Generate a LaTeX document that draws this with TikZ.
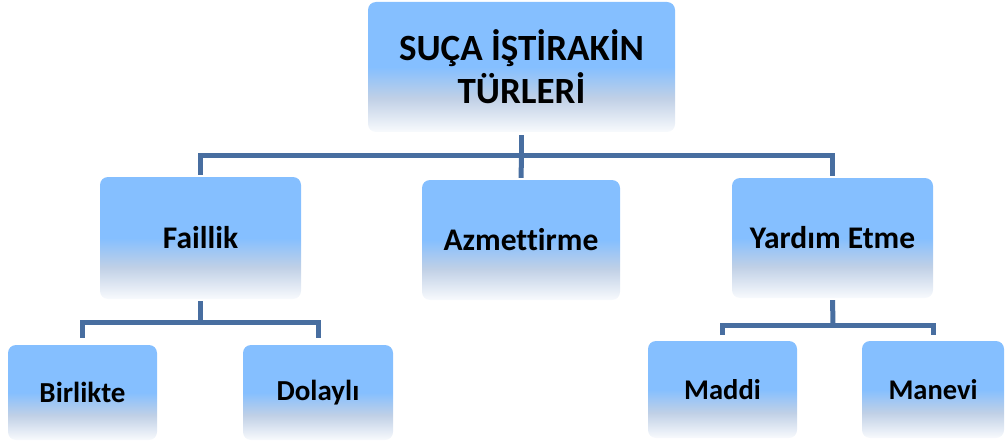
\documentclass[tikz,border=0pt]{standalone}
\usepackage{fontspec}
\setmainfont{Carlito}[Ligatures=NoCommon]
\definecolor{boxblue}{RGB}{133,191,255}
\definecolor{boxgrey}{RGB}{192,208,230}
\definecolor{boxwhite}{RGB}{248,250,253}
\definecolor{linkblue}{RGB}{72,110,160}
\pgfdeclareverticalshading{boxshade}{100bp}{color(0bp)=(boxwhite); color(25bp)=(boxwhite); color(38bp)=(boxgrey); color(50bp)=(boxblue); color(75bp)=(boxblue); color(100bp)=(boxblue)}
\tikzset{
  tbox/.style={rounded corners=8pt, shading=boxshade, align=center, inner sep=0pt, font=\bfseries, text=black},
  link/.style={draw=linkblue, line width=5pt},
}
\begin{document}
\begin{tikzpicture}[x=1pt,y=-1pt]
\useasboundingbox (0,0) rectangle (1006,441);
\node[tbox, minimum width=307pt, minimum height=130pt, font=\bfseries\fontsize{37}{43}\selectfont] (top) at (521.5,67) {SUÇA İŞTİRAKİN\\TÜRLERİ};
\node[tbox, minimum width=201pt, minimum height=122pt, font=\bfseries\fontsize{31.5}{36}\selectfont] (fa) at (200.5,238) {Faillik};
\node[tbox, minimum width=198pt, minimum height=120pt, font=\bfseries\fontsize{31.5}{36}\selectfont] (az) at (521,240) {Azmettirme};
\node[tbox, minimum width=201pt, minimum height=120pt, font=\bfseries\fontsize{31.5}{36}\selectfont] (ya) at (832.5,238) {Yardım Etme};
\node[tbox, minimum width=149pt, minimum height=95pt, font=\bfseries\fontsize{29}{34}\selectfont] (bi) at (82.5,392.5) {Birlikte};
\node[tbox, minimum width=150pt, minimum height=95pt, font=\bfseries\fontsize{29}{34}\selectfont] (do) at (318,392.5) {Dolaylı};
\node[tbox, minimum width=149pt, minimum height=97pt, font=\bfseries\fontsize{28.5}{34}\selectfont] (ma) at (722.5,389.5) {Maddi};
\node[tbox, minimum width=142pt, minimum height=97pt, font=\bfseries\fontsize{28.5}{34}\selectfont] (mn) at (933,389.5) {Manevi};
\coordinate (j1) at (521.5,155);
\coordinate (j2) at (200.5,322);
\coordinate (j3) at (833,325);
\draw[link, shorten <=3pt] (top.south) -- (j1);
\draw[link, shorten >=2pt] (j1) -- (az.north);
\draw[link, shorten <=2pt, shorten >=2pt] (fa.north) |- (j1) -| (ya.north);
\draw[link, shorten <=2pt] (fa.south) -- (j2);
\draw[link, shorten <=7pt, shorten >=7pt] (bi.north) |- (j2) -| (do.north);
\draw[link, shorten <=2pt] (ya.south) -- (j3);
\draw[link, shorten <=6pt, shorten >=6pt] (ma.north) |- (j3) -| (mn.north);
\end{tikzpicture}
\end{document}
